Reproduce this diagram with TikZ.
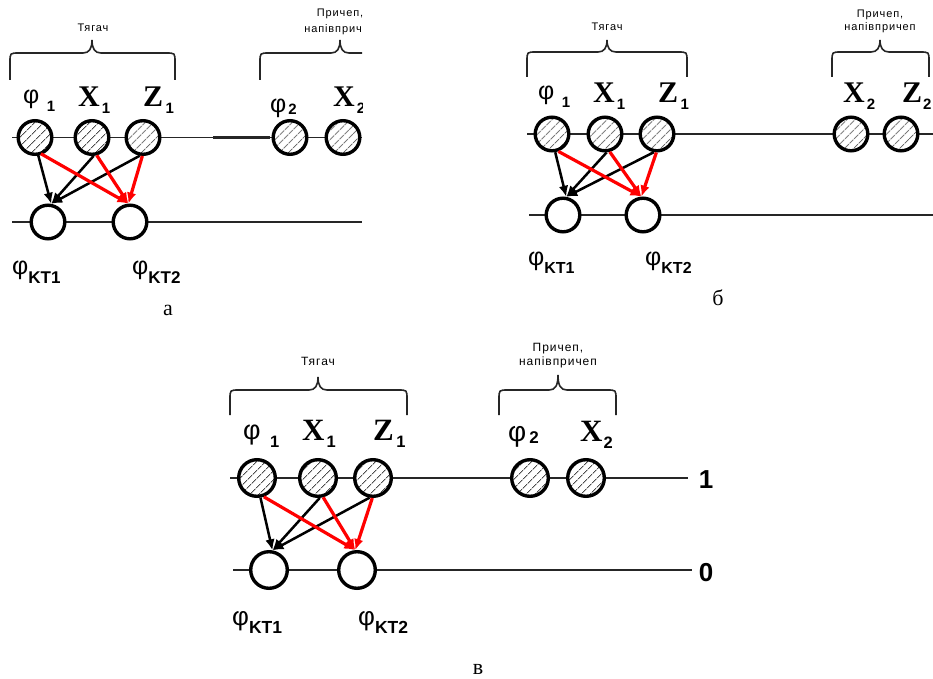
\documentclass[tikz,border=0pt]{standalone}
\usepackage{fontspec}
\setmainfont{Liberation Serif}
\setsansfont{Liberation Sans}
\usetikzlibrary{patterns.meta,arrows.meta}
\newcommand{\fs}[1]{\fontsize{#1}{#1}\selectfont}
\newcommand{\glab}[6]{{\fs{#1}#2}\hspace{#3}\raisebox{#4}{\fs{#5}\sffamily\bfseries #6}}
\newcommand{\mybrace}[6]{\draw[brc] (#1,#6) -- (#1,{#5+9}) .. controls (#1,#5) .. ({#1+9},#5) -- ({#3-9},#5) .. controls ({#3-3},#5) and (#3,{#5-4}) .. (#3,#4) .. controls (#3,{#5-4}) and ({#3+3},#5) .. ({#3+9},#5) -- ({#2-9},#5) .. controls (#2,#5) .. (#2,{#5+9}) -- (#2,#6);}
\tikzset{
 hub/.style={circle,draw,line width=3.4pt,inner sep=0pt,minimum size=33.6pt,preaction={fill=white},pattern={Lines[angle=45,distance=6.5pt,line width=1pt]},pattern color=black!70},
 hubc/.style={hub,minimum size=36.6pt},
 ktn/.style={circle,draw,line width=3.4pt,inner sep=0pt,minimum size=33.6pt,fill=white},
 ktnc/.style={ktn,minimum size=36.6pt},
 axisln/.style={line width=1.5pt,black!85},
 thk/.style={line width=2.4pt},
 brc/.style={line width=1.6pt,black!85},
 blk/.style={-{Latex[length=11pt,width=9.5pt]},line width=2.5pt},
 rdar/.style={blk,red,line width=3.2pt},
 lbl/.style={inner sep=0pt,anchor=base west},
 smalltxt/.style={inner sep=0pt,anchor=base,font=\sffamily\fs{11}\addfontfeatures{LetterSpace=8}},
 smalltxtc/.style={smalltxt,font=\sffamily\fs{12}\addfontfeatures{LetterSpace=8}},
 captxt/.style={inner sep=0pt,anchor=base,font=\fs{22}},
 levtxt/.style={inner sep=0pt,font=\sffamily\bfseries\fs{26}},
}
\begin{document}
\begin{tikzpicture}[x=1pt,y=-1pt]
\useasboundingbox (0,0) rectangle (933,679);
% ================= panel a =================
\begin{scope}
\clip (0,0) rectangle (362,330);
\draw[axisln] (12,137.5) -- (362,137.5);
\draw[axisln,thk] (213,137.5) -- (270,137.5);
\draw[axisln] (12,222) -- (362,222);
\draw[axisln,thk] (85,222) -- (110,222);
\node[hub] (a-p1) at (35,137.5) {};
\node[hub] (a-x1) at (92,137.5) {};
\node[hub] (a-z1) at (143,137.5) {};
\node[hub] (a-p2) at (290,137.5) {};
\node[hub] (a-x2) at (343,137.5) {};
\node[ktn] (a-k1) at (48,222) {};
\node[ktn] (a-k2) at (130,222) {};
\draw[blk] (a-p1.-80) -- (a-k1.80);
\draw[blk] (a-x1.-85) -- (a-k1.80);
\draw[blk] (a-z1.-100) -- (a-k1.80);
\draw[rdar] (a-p1.-70) -- (a-k2.95);
\draw[rdar] (a-x1.-75) -- (a-k2.95);
\draw[rdar] (a-z1.-92) -- (a-k2.95);
\mybrace{10}{175}{92}{40}{53}{80}
\mybrace{260}{420}{340}{40}{53}{80}
\node[smalltxt] (a-t1) at (93,32) {Тягач};
\node[smalltxt] (a-t2) at (340,17) {Причеп,};
\node[smalltxt] (a-t3) at (340,33) {напівпричеп};
\node[lbl] (a-lp1) at (23,103.5) {\glab{25}{\sffamily φ}{7.5pt}{-8pt}{15}{1}};
\node[lbl] (a-lx1) at (78,107) {\glab{30}{\bfseries X}{2pt}{-6.5pt}{15}{1}};
\node[lbl] (a-lz1) at (143,107) {\glab{30}{\bfseries Z}{2.5pt}{-6.5pt}{15}{1}};
\node[lbl] (a-lp2) at (270,112.5) {\glab{25}{\sffamily φ}{2pt}{-2pt}{15}{2}};
\node[lbl] (a-lx2) at (333,107) {\glab{30}{\bfseries X}{2pt}{-6.5pt}{15}{2}};
\node[lbl] (a-lk1) at (12,274.5) {\glab{25}{\sffamily φ}{0pt}{-8.5pt}{17}{KT1}};
\node[lbl] (a-lk2) at (132,274.5) {\glab{25}{\sffamily φ}{0pt}{-8.5pt}{17}{KT2}};
\end{scope}
\node[captxt] (a-cap) at (168,315) {а};
% ================= panel b =================
\draw[axisln] (527,134) -- (933,134);
\draw[axisln,thk] (724,134) -- (776,134);
\draw[axisln] (529,215) -- (933,215);
\draw[axisln,thk] (600,215) -- (623,215);
\node[hub] (b-p1) at (552,134) {};
\node[hub] (b-x1) at (605,134) {};
\node[hub] (b-z1) at (657,134) {};
\node[hub] (b-x2) at (851,134) {};
\node[hub] (b-z2) at (901,134) {};
\node[ktn] (b-k1) at (563,215) {};
\node[ktn] (b-k2) at (643,215) {};
\draw[blk] (b-p1.-80) -- (b-k1.80);
\draw[blk] (b-x1.-85) -- (b-k1.80);
\draw[blk] (b-z1.-100) -- (b-k1.80);
\draw[rdar] (b-p1.-70) -- (b-k2.95);
\draw[rdar] (b-x1.-75) -- (b-k2.95);
\draw[rdar] (b-z1.-92) -- (b-k2.95);
\mybrace{527}{687}{607}{40}{52}{77}
\mybrace{832}{929}{880}{40}{52}{77}
\node[smalltxt] (b-t1) at (607,31) {Тягач};
\node[smalltxt] (b-t2) at (880,18) {Причеп,};
\node[smalltxt] (b-t3) at (880,31) {напівпричеп};
\node[lbl] (b-lp1) at (538,99.5) {\glab{25}{\sffamily φ}{7.5pt}{-8.5pt}{15}{1}};
\node[lbl] (b-lx1) at (593,103) {\glab{30}{\bfseries X}{2pt}{-6.5pt}{15}{1}};
\node[lbl] (b-lz1) at (658,103) {\glab{30}{\bfseries Z}{2.5pt}{-6.5pt}{15}{1}};
\node[lbl] (b-lx2) at (843,103) {\glab{30}{\bfseries X}{2pt}{-6.5pt}{15}{2}};
\node[lbl] (b-lz2) at (902,103) {\glab{30}{\bfseries Z}{1pt}{-6.5pt}{15}{2}};
\node[lbl] (b-lk1) at (528,265.5) {\glab{25}{\sffamily φ}{0pt}{-7.5pt}{16}{KT1}};
\node[lbl] (b-lk2) at (645,265.5) {\glab{25}{\sffamily φ}{0pt}{-7.5pt}{16}{KT2}};
\node[captxt] (b-cap) at (718,305) {б};
% ================= panel c =================
\draw[axisln] (230,478) -- (688,478);
\draw[axisln,thk] (448,478) -- (508,478);
\draw[axisln] (233,570) -- (692,570);
\draw[axisln,thk] (310,570) -- (337,570);
\node[hubc] (c-p1) at (257,478) {};
\node[hubc] (c-x1) at (318,478) {};
\node[hubc] (c-z1) at (373,478) {};
\node[hubc] (c-p2) at (530,478) {};
\node[hubc] (c-x2) at (586,478) {};
\node[ktnc] (c-k1) at (269,570) {};
\node[ktnc] (c-k2) at (357,570) {};
\draw[blk] (c-p1.-80) -- (c-k1.80);
\draw[blk] (c-x1.-85) -- (c-k1.80);
\draw[blk] (c-z1.-100) -- (c-k1.80);
\draw[rdar] (c-p1.-70) -- (c-k2.95);
\draw[rdar] (c-x1.-75) -- (c-k2.95);
\draw[rdar] (c-z1.-92) -- (c-k2.95);
\mybrace{230}{407}{318}{377}{390}{415}
\mybrace{499}{616}{558}{375}{390}{415}
\node[smalltxtc] (c-t1) at (318,365) {Тягач};
\node[smalltxtc] (c-t2) at (558,351) {Причеп,};
\node[smalltxtc] (c-t3) at (558,365) {напівпричеп};
\node[lbl] (c-lp1) at (243,439) {\glab{27}{\sffamily φ}{9.5pt}{-8pt}{16.5}{1}};
\node[lbl] (c-lx1) at (302,440) {\glab{31}{\bfseries X}{2pt}{-7pt}{16.5}{1}};
\node[lbl] (c-lz1) at (373,440) {\glab{31}{\bfseries Z}{2.5pt}{-7pt}{16.5}{1}};
\node[lbl] (c-lp2) at (508,441.5) {\glab{28}{\sffamily φ}{3pt}{-1.5pt}{17}{2}};
\node[lbl] (c-lx2) at (580,441) {\glab{31}{\bfseries X}{1pt}{-7pt}{16.5}{2}};
\node[lbl] (c-lk1) at (232,625) {\glab{26}{\sffamily φ}{0pt}{-8pt}{17.5}{KT1}};
\node[lbl] (c-lk2) at (358,625) {\glab{26}{\sffamily φ}{0pt}{-8pt}{17.5}{KT2}};
\node[levtxt] (c-lev1) at (706,480) {1};
\node[levtxt] (c-lev0) at (706,573) {0};
\node[captxt] (c-cap) at (478,674) {в};
\end{tikzpicture}
\end{document}
